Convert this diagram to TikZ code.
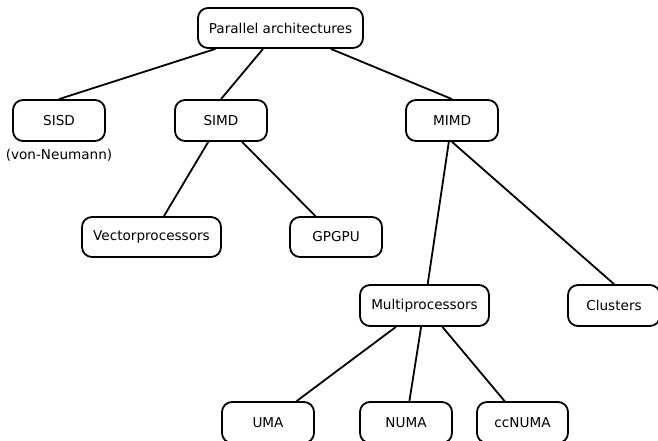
\documentclass[tikz,border=0pt]{standalone}
\usepackage{fontspec}
\setmainfont{DejaVu Sans}
\begin{document}
\begin{tikzpicture}[x=1pt,y=-1pt,
  box/.style={draw=black, line width=1.8pt, rounded corners=10pt, fill=white,
    minimum height=41pt, inner sep=0pt, font=\fontsize{13.6}{16}\selectfont},
  edge/.style={line width=1.8pt}]
\clip (0,0) rectangle (658,441);
\fill[white] (0,0) rectangle (658,441);
\node[box, minimum width=165pt, minimum height=40pt] (par) at (280.5,28) {Parallel architectures};
\node[box, minimum width=92pt] (sisd) at (59,120.5) {SISD};
\node[font=\fontsize{13.6}{16}\selectfont] (vn) at (59,155) {(von-Neumann)};
\node[box, minimum width=92pt] (simd) at (221,120.5) {SIMD};
\node[box, minimum width=92pt] (mimd) at (452,120.5) {MIMD};
\node[box, minimum width=139pt, minimum height=40pt] (vec) at (151.5,237) {Vectorprocessors};
\node[box, minimum width=92pt, minimum height=40pt] (gpgpu) at (336,237) {GPGPU};
\node[box, minimum width=129pt] (multi) at (424.5,305.5) {Multiprocessors};
\node[box, minimum width=92pt] (clus) at (614,305.5) {Clusters};
\node[box, minimum width=92pt] (uma) at (268,422.5) {UMA};
\node[box, minimum width=92pt] (numa) at (406,422.5) {NUMA};
\node[box, minimum width=91pt] (ccnuma) at (522.5,422.5) {ccNUMA};
\draw[edge] (par) -- (sisd.north);
\draw[edge] (par) -- (simd.north);
\draw[edge] (par) -- (mimd.north);
\draw[edge] (simd) -- (vec);
\draw[edge] (simd) -- (gpgpu);
\draw[edge] (mimd) -- (multi);
\draw[edge] (mimd.south) -- (clus.north);
\draw[edge] (multi) -- (uma);
\draw[edge] (multi) -- (numa);
\draw[edge] (multi) -- (ccnuma);
\end{tikzpicture}
\end{document}
